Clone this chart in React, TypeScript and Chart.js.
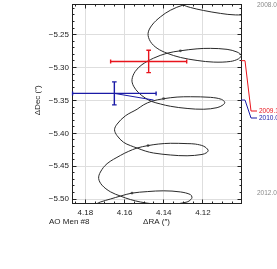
import React, { useEffect, useRef } from 'react';
import { Chart, registerables } from 'chart.js';

Chart.register(...registerables);

// Predicted track of the companion (ΔRA, ΔDec in arcsec), time ordered
const orbitRA = [
  4.1397, 4.1382, 4.1346, 4.1300, 4.1264, 4.1198, 4.1111, 4.1035, 4.0968, 4.0922,
  4.0948, 4.1009, 4.1086, 4.1162, 4.1231, 4.1300, 4.1366, 4.1417, 4.1460, 4.1480,
  4.1468, 4.1434, 4.1383, 4.1315, 4.1230, 4.1145, 4.1060, 4.1018, 4.1004, 4.1026,
  4.1077, 4.1162, 4.1230, 4.1315, 4.1383, 4.1452, 4.1511, 4.1545, 4.1562, 4.1554,
  4.1528, 4.1494, 4.1463, 4.1417, 4.1366, 4.1281, 4.1196, 4.1128, 4.1098, 4.1089,
  4.1106, 4.1162, 4.1264, 4.1332, 4.1401, 4.1463, 4.1504, 4.1536, 4.1596, 4.1638,
  4.1651, 4.1638, 4.1605, 4.1570, 4.1536, 4.1494, 4.1452, 4.1366, 4.1281, 4.1205,
  4.1180, 4.1174, 4.1196, 4.1239, 4.1281, 4.1366, 4.1428, 4.1480, 4.1536, 4.1581,
  4.1621, 4.1689, 4.1723, 4.1732, 4.1715, 4.1672, 4.1621, 4.1570, 4.1519, 4.1452,
  4.1366, 4.1281, 4.1262, 4.1256, 4.1264, 4.1315, 4.1401, 4.1484, 4.1562, 4.1621,
  4.1672, 4.1723, 4.1744, 4.1774,
];
const orbitDec = [
  -5.1732, -5.1852, -5.1958, -5.2048, -5.2086, -5.2131, -5.2176, -5.2199, -5.2184, -5.2108,
  -5.2018, -5.1988, -5.1980, -5.1988, -5.2011, -5.2048, -5.2128, -5.2229, -5.2354, -5.2480,
  -5.2605, -5.2706, -5.2782, -5.2846, -5.2892, -5.2917, -5.2907, -5.2866, -5.2816, -5.2764,
  -5.2723, -5.2708, -5.2715, -5.2745, -5.2782, -5.2857, -5.2956, -5.3057, -5.3182, -5.3283,
  -5.3384, -5.3464, -5.3514, -5.3554, -5.3589, -5.3622, -5.3634, -5.3610, -5.3569, -5.3529,
  -5.3483, -5.3453, -5.3444, -5.3449, -5.3474, -5.3514, -5.3569, -5.3634, -5.3735, -5.3860,
  -5.3946, -5.4036, -5.4137, -5.4187, -5.4224, -5.4270, -5.4300, -5.4330, -5.4342, -5.4322,
  -5.4292, -5.4255, -5.4197, -5.4164, -5.4157, -5.4152, -5.4164, -5.4187, -5.4224, -5.4277,
  -5.4337, -5.4462, -5.4589, -5.4688, -5.4789, -5.4890, -5.4955, -5.5008, -5.5045, -5.5075,
  -5.5083, -5.5045, -5.5008, -5.4974, -5.4932, -5.4892, -5.4875, -5.4887, -5.4910, -5.4955,
  -5.5000, -5.5045, -5.5075, -5.5136,
];

// Yearly epoch markers on the track
const epochLabels = ['2008.0', '2009.0', '2010.0', '2011.0', '2012.0'];
const epochRA = [4.1231, 4.1315, 4.1401, 4.1480, 4.1562];
const epochDec = [-5.2011, -5.2745, -5.3474, -5.4187, -5.4910];
const labelledEpochs = ['2008.0', '2012.0'];

// Observations
const obsEpochs = ['2009.1', '2010.0'];
const obsRA = [4.1477, 4.1652];
const obsDec = [-5.2907, -5.3393];
const obsRAErr = [0.0194, 0.0213];
const obsDecErr = [0.0170, 0.0175];
const modelRA = [4.1476, 4.1452];
const modelDec = [-5.2895, -5.3494];
const obsColors = ['#e8141c', '#1a1aa6'];

// Axes
const xTicks = [4.18, 4.16, 4.14, 4.12];
const yTicks = [-5.25, -5.30, -5.35, -5.40, -5.45, -5.50];
const xMin = 4.1006, xMax = 4.1868;
const yMin = -5.5068, yMax = -5.2033;
const xTitle = 'ΔRA (″)';
const yTitle = 'ΔDec (″)';
const targetName = 'AO Men #8';

const FONT = 'Liberation Sans, Arial, Helvetica, sans-serif';

const framePlugin = {
  id: 'frameTicks',
  afterDatasetsDraw(chart: any) {
    const { ctx, chartArea: a, scales } = chart;
    const x = scales.x, y = scales.y;
    const L = Math.floor(a.left) + 0.5, R = Math.floor(a.right) + 0.5;
    const T = Math.floor(a.top) + 0.5, B = Math.floor(a.bottom) + 0.5;
    ctx.save();
    ctx.strokeStyle = '#222';
    ctx.lineWidth = 1;
    ctx.strokeRect(L, T, R - L, B - T);
    ctx.beginPath();
    // x: minor every 0.005, major every 0.02
    for (let k = Math.ceil(xMin / 0.005); k * 0.005 <= xMax + 1e-9; k++) {
      const px = Math.floor(x.getPixelForValue(k * 0.005)) + 0.5;
      const len = k % 4 === 0 ? 4 : 2;
      ctx.moveTo(px, B); ctx.lineTo(px, B - len);
      ctx.moveTo(px, T); ctx.lineTo(px, T + len);
    }
    // y: minor every 0.01, major every 0.05
    for (let k = Math.ceil(yMin / 0.01 - 1e-9); k * 0.01 <= yMax + 1e-9; k++) {
      const py = Math.floor(y.getPixelForValue(k * 0.01)) + 0.5;
      const len = k % 5 === 0 ? 4 : 2;
      ctx.moveTo(L, py); ctx.lineTo(L + len, py);
      ctx.moveTo(R, py); ctx.lineTo(R - len, py);
    }
    ctx.stroke();
    ctx.restore();
  },
};

const obsPlugin = {
  id: 'observations',
  afterDatasetsDraw(chart: any) {
    const { ctx, chartArea: a, scales } = chart;
    const x = scales.x, y = scales.y;
    ctx.save();
    for (let i = 0; i < obsRA.length; i++) {
      const col = obsColors[i];
      const cx = x.getPixelForValue(obsRA[i]);
      const cy = y.getPixelForValue(obsDec[i]);
      const xa = x.getPixelForValue(obsRA[i] + obsRAErr[i]);
      const xb = x.getPixelForValue(obsRA[i] - obsRAErr[i]);
      const ya = y.getPixelForValue(obsDec[i] + obsDecErr[i]);
      const yb = y.getPixelForValue(obsDec[i] - obsDecErr[i]);
      const mx = x.getPixelForValue(modelRA[i]);
      const my = y.getPixelForValue(modelDec[i]);
      ctx.strokeStyle = col;
      // link to model position
      ctx.lineWidth = 1;
      ctx.beginPath();
      ctx.moveTo(cx, cy); ctx.lineTo(mx, my);
      ctx.stroke();
      ctx.lineWidth = 1.4;
      ctx.beginPath();
      ctx.moveTo(xa, cy); ctx.lineTo(xb, cy);
      ctx.moveTo(xa, cy - 2); ctx.lineTo(xa, cy + 2);
      ctx.moveTo(xb, cy - 2); ctx.lineTo(xb, cy + 2);
      ctx.moveTo(cx, ya); ctx.lineTo(cx, yb);
      ctx.moveTo(cx - 2.3, ya); ctx.lineTo(cx + 2.3, ya);
      ctx.moveTo(cx - 2.3, yb); ctx.lineTo(cx + 2.3, yb);
      ctx.stroke();
      // callout on the right
      const calloutY = [111, 118][i];
      const R = a.right;
      ctx.lineWidth = 1;
      ctx.beginPath();
      ctx.moveTo(R, my);
      ctx.lineTo(R + 4, my);
      ctx.lineTo(R + 10, calloutY);
      ctx.lineTo(R + 16, calloutY);
      ctx.stroke();
      ctx.fillStyle = col;
      ctx.font = `6.5px ${FONT}`;
      ctx.textBaseline = 'middle';
      ctx.textAlign = 'left';
      ctx.fillText(obsEpochs[i], R + 18, calloutY);
    }
    // gray epoch labels
    ctx.fillStyle = '#8a8a8a';
    ctx.font = `6.5px ${FONT}`;
    ctx.textBaseline = 'middle';
    ctx.textAlign = 'left';
    for (const lab of labelledEpochs) {
      const j = epochLabels.indexOf(lab);
      const py = Math.max(y.getPixelForValue(epochDec[j]), a.top + 1.5);
      ctx.fillText(lab, a.right + 16, py);
    }
    // titles
    ctx.fillStyle = '#222';
    ctx.font = `8px ${FONT}`;
    ctx.textAlign = 'center';
    ctx.fillText(xTitle, (a.left + a.right) / 2, a.bottom + 18.5);
    ctx.textAlign = 'left';
    ctx.fillText(targetName, 49, a.bottom + 18.5);
    ctx.save();
    ctx.translate(38, (a.top + a.bottom) / 2 - 3.5);
    ctx.rotate(-Math.PI / 2);
    ctx.textAlign = 'center';
    ctx.fillText(yTitle, 0, 0);
    ctx.restore();
    ctx.restore();
  },
};

export default function App() {
  const ref = useRef<HTMLCanvasElement>(null);
  useEffect(() => {
    const canvas = ref.current;
    if (!canvas) return;
    const chart = new Chart(canvas, {
      type: 'scatter',
      data: {
        datasets: [
          {
            data: orbitRA.map((v, i) => ({ x: v, y: orbitDec[i] })),
            showLine: true,
            borderColor: '#2a2a2a',
            borderWidth: 1,
            pointRadius: 0,
            tension: 0.35,
          },
          {
            data: epochRA.map((v, i) => ({ x: v, y: epochDec[i] })),
            showLine: false,
            pointRadius: 1.4,
            pointBorderWidth: 0,
            backgroundColor: '#666',
          },
        ],
      },
      options: {
        responsive: false,
        animation: false,
        events: [],
        layout: { padding: { left: 0, right: 36, top: 2, bottom: 0 } },
        plugins: { legend: { display: false }, tooltip: { enabled: false }, title: { display: false } },
        scales: {
          x: {
            type: 'linear',
            reverse: true,
            min: xMin,
            max: xMax,
            afterBuildTicks: (s: any) => { s.ticks = xTicks.map((value) => ({ value })); },
            afterFit: (s: any) => { s.height = 65.5; s.paddingLeft = 0; s.paddingRight = 0; },
            grid: { color: '#dedede', lineWidth: 1, drawTicks: false },
            border: { display: false },
            ticks: {
              autoSkip: false,
              maxRotation: 0,
              padding: 4,
              color: '#222',
              font: { family: FONT, size: 8 },
              callback: (v: any) => Number(v).toFixed(2),
            },
          },
          y: {
            type: 'linear',
            min: yMin,
            max: yMax,
            afterBuildTicks: (s: any) => { s.ticks = yTicks.map((value) => ({ value })); },
            afterFit: (s: any) => { s.width = 72; s.paddingTop = 0; s.paddingBottom = 0; },
            grid: { color: '#dedede', lineWidth: 1, drawTicks: false },
            border: { display: false },
            ticks: {
              autoSkip: false,
              padding: 3,
              color: '#222',
              font: { family: FONT, size: 8 },
              callback: (v: any) => Number(v).toFixed(2).replace('-', '\u2212'),
            },
          },
        },
      },
      plugins: [framePlugin, obsPlugin],
    });
    return () => chart.destroy();
  }, []);
  return (
    <div style={{ position: 'fixed', left: 0, top: 0, width: 277, height: 269, background: '#fff' }}>
      <canvas ref={ref} width={277} height={269} style={{ display: 'block' }} />
    </div>
  );
}
